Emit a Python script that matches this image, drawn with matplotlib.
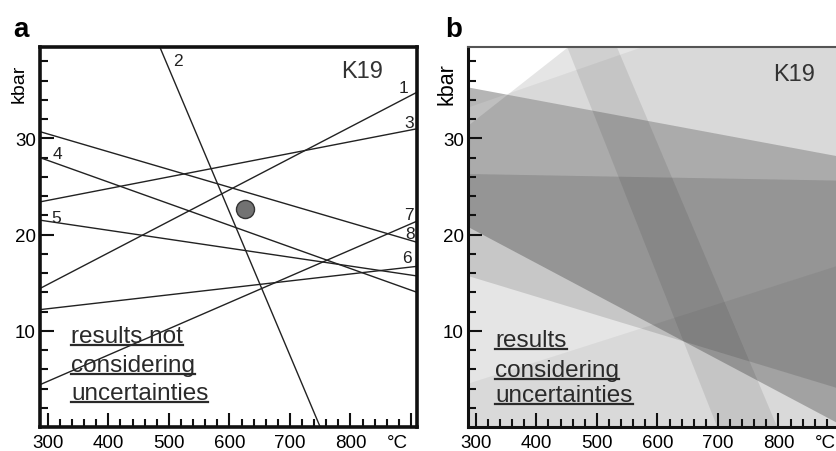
import numpy as np
import matplotlib
matplotlib.use('Agg')
import matplotlib.pyplot as plt
from matplotlib.ticker import FixedLocator

plt.rcParams['font.family'] = ['Liberation Sans', 'DejaVu Sans']

# axis ranges (deg C, kbar)
T_min, T_max = 287, 910
P_min, P_max = 0, 39.5

# panel a: reaction lines, end points (T, P)
line_ids = ['1', '2', '3', '4', '5', '6', '7', '8']
line_T0 = [287, 485, 287, 287, 287, 287, 287, 287]
line_P0 = [14.4, 39.5, 23.4, 28.0, 21.5, 12.2, 4.4, 30.7]
line_T1 = [910, 750, 910, 910, 910, 910, 910, 910]
line_P1 = [34.8, 0.0, 31.0, 14.0, 15.7, 16.7, 21.4, 19.2]
label_T = [887, 515, 897, 315, 313, 894, 897, 899]
label_P = [35.3, 38.1, 31.6, 28.4, 21.8, 17.6, 22.1, 20.1]

# intersection estimate
best_T, best_P = 626, 22.7

# panel b: uncertainty bands, each bounded by two edges (T0, P0, T1, P1)
band_edge_a = [(287, -10.0, 910, -10.0),
               (699, 0.0, 451, 39.5),
               (287, 35.3, 910, 28.0),
               (287, 15.7, 910, 3.8),
               (287, -10.0, 910, -10.0),
               (287, 20.8, 910, 0.0)]
band_edge_b = [(287, 31.3, 910, 62.1),
               (798, 0.0, 533, 39.5),
               (287, 33.2, 910, 46.8),
               (287, 26.3, 910, 25.6),
               (287, 4.5, 910, 17.0),
               (287, 35.3, 910, 28.0)]
band_alpha = [0.10, 0.09, 0.05, 0.13, 0.05, 0.25]

x_major = [300, 400, 500, 600, 700, 800, 900]
x_labels = ['300', '400', '500', '600', '700', '800', '']
unit_label = '°C'


def extend(e, k=0.6):
    # stretch an edge a bit beyond its end points so the clip does the cutting
    t0, p0, t1, p1 = e
    dt, dp = t1 - t0, p1 - p0
    return (t0 - k * dt, p0 - k * dp), (t1 + k * dt, p1 + k * dp)


def style_axes(ax, kbar_size):
    ax.set_xlim(T_min, T_max)
    ax.set_ylim(P_min, P_max)
    ax.xaxis.set_major_locator(FixedLocator(x_major))
    ax.set_xticklabels(x_labels)
    ax.xaxis.set_minor_locator(FixedLocator(
        [t for t in range(320, 901, 20) if t % 100]))
    ax.yaxis.set_major_locator(FixedLocator([10, 20, 30]))
    ax.yaxis.set_minor_locator(FixedLocator(
        [p for p in range(2, 39, 2) if p % 10]))
    ax.tick_params(which='both', direction='in', top=False, right=False,
                   width=1.5, color='#111111', labelsize=13.5)
    ax.tick_params(which='major', length=10)
    ax.tick_params(which='minor', length=5.5)
    ax.tick_params(axis='x', pad=5)
    ax.tick_params(axis='y', pad=3)
    # unit sits under the last major tick, pulled to the left
    ax.annotate(unit_label, xy=(x_major[-1], 0),
                xycoords=('data', 'axes fraction'), xytext=(-2, -5),
                textcoords='offset points', ha='right', va='top',
                fontsize=13.5)
    ax.text(-0.055, 0.905, 'kbar', rotation=90, fontsize=kbar_size,
            transform=ax.transAxes, ha='center', va='center')


def add_note(ax, lines, x, ys):
    texts = []
    for s, y in zip(lines, ys):
        texts.append(ax.text(x, y, s, fontsize=17.5, color='#2a2a2a',
                             transform=ax.transAxes, ha='left', va='baseline'))
    return texts


fig = plt.figure(figsize=(8.37, 4.52), dpi=100)
ax_a = fig.add_axes([40 / 837, 24 / 452, 377 / 837, 380 / 452])
ax_b = fig.add_axes([468 / 837, 24 / 452, 377 / 837, 380 / 452])

# ---- panel a
for i in range(len(line_ids)):
    ax_a.plot([line_T0[i], line_T1[i]], [line_P0[i], line_P1[i]],
              color='#222222', lw=1.0)
    ax_a.text(label_T[i], label_P[i], line_ids[i], fontsize=12.5,
              ha='center', va='center', color='#222222')
ax_a.plot(best_T, best_P, 'o', ms=13, mfc='#727272', mec='#333333', mew=1.0)
for s in ax_a.spines.values():
    s.set_linewidth(2.6)
    s.set_color('#111111')
style_axes(ax_a, 14)
ax_a.text(0.80, 0.921, 'K19', fontsize=17, transform=ax_a.transAxes,
          ha='left', va='baseline', color='#333333')
notes_a = add_note(ax_a, ['results not', 'considering', 'uncertainties'],
                   0.082, [0.224, 0.147, 0.074])

# ---- panel b
for ea, eb, al in zip(band_edge_a, band_edge_b, band_alpha):
    a0, a1 = extend(ea)
    b0, b1 = extend(eb)
    poly = np.array([a0, a1, b1, b0])
    ax_b.fill(poly[:, 0], poly[:, 1], color='black', alpha=al, lw=0)
ax_b.spines['top'].set_color('#555555')
ax_b.spines['top'].set_linewidth(1.5)
for k in ['left', 'bottom']:
    ax_b.spines[k].set_linewidth(2.2)
    ax_b.spines[k].set_color('#111111')
style_axes(ax_b, 15.5)
ax_b.text(0.809, 0.913, 'K19', fontsize=17, transform=ax_b.transAxes,
          ha='left', va='baseline', color='#333333')
notes_b = add_note(ax_b, ['results', 'considering', 'uncertainties'],
                   0.072, [0.213, 0.134, 0.068])

fig.text(13 / 837, 0.918, 'a', fontsize=20, fontweight='bold', va='baseline')
fig.text(445 / 837, 0.918, 'b', fontsize=20, fontweight='bold', va='baseline')

# underline the notes
fig.canvas.draw()
rend = fig.canvas.get_renderer()
for ax, texts in [(ax_a, notes_a), (ax_b, notes_b)]:
    inv = ax.transAxes.inverted()
    for t in texts:
        bb = t.get_window_extent(rend)
        base = ax.transAxes.transform(t.get_position())[1]
        p0 = inv.transform((bb.x0, base - 3))
        p1 = inv.transform((bb.x1, base - 3))
        ax.plot([p0[0], p1[0]], [p0[1], p1[1]], color='#2a2a2a', lw=1.6,
                transform=ax.transAxes, clip_on=False)

fig.savefig('out.png', dpi=100)
